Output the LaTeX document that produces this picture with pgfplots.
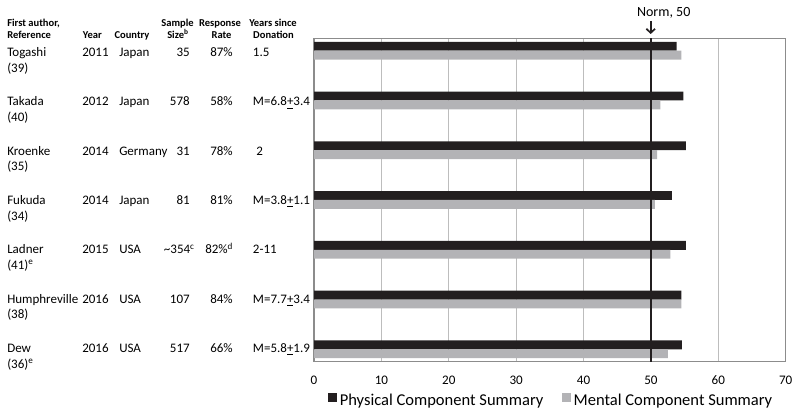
\documentclass[border=0pt]{standalone}
\usepackage{fontspec}
\setmainfont{Carlito}
\usepackage{pgfplots}
\pgfplotsset{compat=1.18}
\usetikzlibrary{arrows.meta}
\definecolor{PcsBlack}{HTML}{231F20}
\definecolor{McsGray}{HTML}{B3B3B6}
\definecolor{FrameGray}{HTML}{8C8C8C}
\definecolor{GridGray}{HTML}{BDBDBD}

\newcommand{\hdr}{\fontsize{7.9}{9}\selectfont\bfseries}
\newcommand{\rw}{\fontsize{9.75}{11}\selectfont}

% one table row: baseline (px), author, ref, year, country, size, rate, years
\newcommand{\studyrow}[8]{%
  \node[anchor=base west] at (7,#1) {#2};
  \node[anchor=base west] at (7,#1+15.6) {#3};
  \node[anchor=base west] at (82,#1) {#4};
  \node[anchor=base west] at (119,#1) {#5};
  \node[anchor=base east] at (190,#1) {#6};
  \node[anchor=base west] at (210,#1) {#7};
  \node[anchor=base west] at (252.7,#1) {#8};}

\begin{document}
\begin{tikzpicture}
\begin{axis}[
  at={(235.5pt,-28.725pt)}, anchor=north west,
  scale only axis, width=353.8pt, height=242.55pt,
  xbar, bar width=6.6pt,
  xmin=0, xmax=70, ymin=-0.25, ymax=6.25,
  xtick={0,10,...,70}, ytick=\empty,
  xmajorgrids, grid style={GridGray, line width=0.6pt},
  axis line style={FrameGray, line width=0.8pt},
  major tick length=0pt,
  tick label style={font=\fontsize{9.8}{11}\selectfont},
  xticklabel style={yshift=-7pt},
  /pgf/number format/assume math mode=true,
  legend columns=2,
  legend style={at={(0.5035,-0.1215)}, anchor=center, draw=none, fill=none,
    font=\fontsize{12.4}{14}\selectfont,
    /tikz/every even column/.append style={column sep=12pt}},
  legend image code/.code={\fill[#1] (0pt,-1pt) rectangle (6.75pt,5.75pt);},
  clip=false,
]
% Physical Component Summary
\addplot[fill=PcsBlack, draw=none, bar shift=3.3pt]
  coordinates {(53.8,6) (54.8,5) (55.2,4) (53.1,3) (55.2,2) (54.5,1) (54.6,0)};
% Mental Component Summary
\addplot[fill=McsGray, draw=none, bar shift=-3.3pt]
  coordinates {(54.5,6) (51.4,5) (50.9,4) (50.6,3) (52.9,2) (54.5,1) (52.5,0)};
\legend{Physical Component Summary, Mental Component Summary}
% norm line
\addplot[forget plot, sharp plot, PcsBlack, line width=1.5pt]
  coordinates {(50,-0.25) (50,6.25)};
\end{axis}

\begin{scope}[x=0.75pt, y=-0.75pt, every node/.style={inner sep=0pt, font=\rw}]
  \node[anchor=base west, font=\hdr] at (7,26.7) {First author,};
  \node[anchor=base west, font=\hdr] at (7,38.3) {Reference};
  \node[anchor=base west, font=\hdr] at (82.7,38.3) {Year};
  \node[anchor=base west, font=\hdr] at (114.3,38.3) {Country};
  \node[anchor=base, font=\hdr] at (177.5,26.7) {Sample};
  \node[anchor=base, font=\hdr] at (178,38.3) {Size\textsuperscript{b}};
  \node[anchor=base, font=\hdr] at (220,26.7) {Response};
  \node[anchor=base, font=\hdr] at (221.5,38.3) {Rate};
  \node[anchor=base, font=\hdr] at (273,26.7) {Years since};
  \node[anchor=base, font=\hdr] at (273.5,38.3) {Donation};

  \studyrow{56.7}{Togashi}{(39)}{2011}{Japan}{35}{87\%}{1.5}
  \studyrow{106}{Takada}{(40)}{2012}{Japan}{578}{58\%}{M=6.8\underline{+}3.4}
  \studyrow{155.3}{Kroenke}{(35)}{2014}{Germany}{31}{78\%}{\kern2.5pt 2}
  \studyrow{204.6}{Fukuda}{(34)}{2014}{Japan}{81}{81\%}{M=3.8\underline{+}1.1}
  \studyrow{253.9}{Ladner}{(41)\textsuperscript{e}}{2015}{USA}{\textasciitilde354\textsuperscript{c}\kern-3.75pt}{\kern-3.75pt 82\%\textsuperscript{d}}{2-11}
  \studyrow{303.2}{Humphreville}{(38)}{2016}{USA}{107}{84\%}{M=7.7\underline{+}3.4}
  \studyrow{352.5}{Dew}{(36)\textsuperscript{e}}{2016}{USA}{517}{66\%}{M=5.8\underline{+}1.9}

  \draw[PcsBlack, line width=1.3pt, -{Straight Barb[length=3pt, width=6.5pt]}] (650.7,21) -- (650.7,34);
  \node[anchor=base, font=\fontsize{10.5}{12}\selectfont] at (663.7,16.7) {Norm, 50};
\end{scope}

\pgfresetboundingbox
\path[use as bounding box] (0,0) rectangle (600pt,-312.75pt);
\end{tikzpicture}
\end{document}
